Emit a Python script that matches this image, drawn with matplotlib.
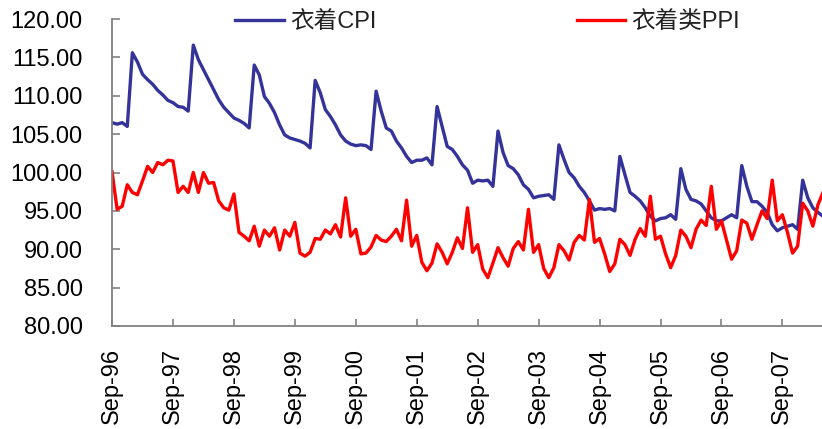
import pandas as pd
import matplotlib
matplotlib.use("Agg")
import matplotlib.pyplot as plt

# monthly index, Sep-1996 .. May-2008
months = pd.date_range("1996-09-01", periods=141, freq="MS")

cpi = [106.5, 106.3, 106.5, 106.0, 115.6, 114.4, 112.8, 112.1, 111.5, 110.7, 110.1, 109.4,
       109.1, 108.6, 108.5, 108.0, 116.6, 114.7, 113.4, 112.1, 110.8, 109.5, 108.5, 107.8,
       107.1, 106.8, 106.4, 105.8, 114.0, 112.7, 109.9, 109.0, 107.8, 106.2, 104.9, 104.5,
       104.3, 104.1, 103.8, 103.2, 112.0, 110.4, 108.2, 107.3, 106.2, 104.9, 104.1, 103.7,
       103.5, 103.6, 103.5, 103.0, 110.6, 108.0, 105.8, 105.4, 104.1, 103.2, 102.1, 101.3,
       101.6, 101.6, 101.9, 101.0, 108.6, 106.0, 103.4, 103.0, 102.1, 101.0, 100.3, 98.6,
       99.0, 98.9, 99.0, 98.2, 105.4, 102.6, 100.9, 100.5, 99.7, 98.4, 97.8, 96.7,
       96.9, 97.0, 97.1, 96.5, 103.6, 101.7, 100.0, 99.3, 98.2, 97.4, 96.3, 95.1,
       95.3, 95.2, 95.3, 95.0, 102.1, 99.7, 97.4, 96.9, 96.3, 95.4, 94.3, 93.7,
       94.0, 94.1, 94.5, 93.9, 100.5, 97.8, 96.5, 96.3, 95.9, 95.0, 94.1, 93.7,
       93.7, 94.1, 94.5, 94.1, 100.9, 98.2, 96.2, 96.2, 95.6, 94.8, 93.2, 92.4,
       92.8, 93.0, 93.2, 92.6, 99.0, 96.7, 95.4, 94.8, 94.3]

ppi = [100.1, 95.2, 95.6, 98.4, 97.4, 97.1, 98.9, 100.8, 100.0, 101.3, 101.0, 101.6,
       101.5, 97.4, 98.2, 97.4, 100.0, 97.4, 100.0, 98.6, 98.7, 96.3, 95.4, 95.1,
       97.2, 92.2, 91.7, 91.1, 93.0, 90.4, 92.5, 91.7, 92.8, 89.9, 92.5, 91.7,
       93.5, 89.5, 89.1, 89.6, 91.4, 91.3, 92.5, 92.0, 93.2, 91.6, 96.7, 91.7,
       92.6, 89.4, 89.5, 90.3, 91.8, 91.2, 91.0, 91.7, 92.6, 91.1, 96.4, 90.4,
       91.8, 88.3, 87.2, 88.2, 90.7, 89.6, 88.1, 89.6, 91.5, 90.1, 95.4, 89.6,
       90.6, 87.4, 86.3, 88.2, 90.2, 88.9, 87.8, 90.1, 91.0, 89.9, 95.2, 89.6,
       90.6, 87.5, 86.3, 87.6, 90.6, 89.8, 88.6, 90.9, 91.8, 91.2, 96.5, 90.9,
       91.4, 89.4, 87.1, 88.1, 91.3, 90.6, 89.2, 91.3, 92.7, 91.7, 96.9, 91.3,
       91.7, 89.4, 87.6, 89.2, 92.5, 91.7, 90.2, 92.6, 93.8, 93.1, 98.2, 92.6,
       93.7, 91.2, 88.7, 89.8, 93.8, 93.4, 91.3, 93.2, 95.0, 94.0, 99.0, 93.7,
       94.5, 92.2, 89.5, 90.4, 96.0, 95.0, 93.0, 95.8, 97.4]

y_ticks = [80, 85, 90, 95, 100, 105, 110, 115, 120]

fonts = ["Liberation Sans", "Noto Sans CJK SC", "DejaVu Sans"]
plt.rcParams["font.family"] = fonts

fig = plt.figure(figsize=(8.22, 4.29), dpi=100)
ax = fig.add_axes([0.1363, 0.2401, 0.8637, 0.7156])

x = list(range(len(months)))
ax.plot(x, cpi, color="#333399", lw=2.4, label="衣着CPI")
ax.plot(x, ppi, color="#FF0000", lw=2.4, label="衣着类PPI")

ax.set_xlim(0, 139.8)
ax.set_ylim(80, 120)
ax.set_yticks(y_ticks)
ax.set_yticklabels([f"{v:.2f}" for v in y_ticks])

xt = list(range(0, len(months), 12))
ax.set_xticks(xt)
ax.set_xticklabels([months[i].strftime("%b-%y") for i in xt], rotation=90)

for side in ["top", "right"]:
    ax.spines[side].set_visible(False)
for side in ["left", "bottom"]:
    ax.spines[side].set_color("#808080")
    ax.spines[side].set_linewidth(1.3)

ax.tick_params(axis="y", direction="in", length=6, width=1.2, color="#808080",
               labelsize=17, pad=21)
ax.tick_params(axis="x", direction="in", length=5, width=1.2, color="#808080",
               labelsize=17, pad=16)

leg = ax.legend(loc="center left", bbox_to_anchor=(0.272, 0.949), bbox_transform=fig.transFigure,
                ncol=2, frameon=False, fontsize=17, borderpad=0, handlelength=2.05,
                handletextpad=0.25, columnspacing=8.5)
for t in leg.get_texts():
    t.set_color("#222222")

fig.savefig("out.png", dpi=100)
